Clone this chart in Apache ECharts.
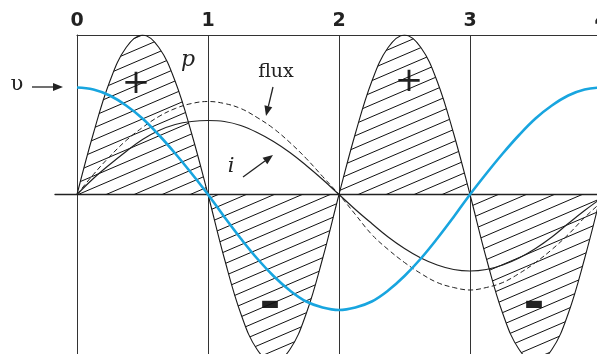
<!DOCTYPE html>
<html>
<head>
<meta charset="utf-8">
<script src="https://cdn.jsdelivr.net/npm/echarts@6/dist/echarts.min.js"></script>
<style>
  html, body { margin: 0; padding: 0; background: #fff; }
  #chart { width: 597px; height: 354px; }
</style>
</head>
<body>
<div id="chart"></div>
<script>
// time in quarter periods of v (0..4), sampled every 1/8
var xs = [0, 0.125, 0.25, 0.375, 0.5, 0.625, 0.75, 0.875,
  1, 1.125, 1.25, 1.375, 1.5, 1.625, 1.75, 1.875,
  2, 2.125, 2.25, 2.375, 2.5, 2.625, 2.75, 2.875,
  3, 3.125, 3.25, 3.375, 3.5, 3.625, 3.75, 3.875, 4];

// readings from the figure (same vertical units for every curve)
var vVals = [107, 105, 99, 89, 76, 59.5, 41, 21,
  0, -22.5, -44, -64, -81.5, -96, -107, -113,
  -115.5, -113, -107, -96, -81.5, -64, -44, -22.5,
  0, 21, 41, 59.5, 76, 89, 99, 105, 107];
var iVals = [0, 16, 30, 43, 55, 64, 70, 73,
  74, 73, 69, 62, 53, 42, 29, 15,
  0, -15, -29, -42.5, -54, -63.5, -70.5, -75,
  -76.5, -75, -70.5, -63.5, -54, -42.5, -29, -16, -4];
var fluxVals = [0, 20, 38, 54, 67, 78, 86, 91,
  93, 91, 86, 77, 66, 52, 36, 18,
  0, -20, -40, -55, -68, -79, -88, -93,
  -95.5, -93, -88, -79, -68, -55, -40, -23, -8];
var pVals = [0, 61, 113, 147, 159.5, 147, 113, 61,
  0, -64, -119, -155, -168, -155, -119, -64,
  0, 61, 113, 147, 159.5, 147, 113, 61,
  0, -64, -119, -155, -168, -155, -119, -64, 0];

var tickLabels = ['0', '1', '2', '3', '4'];

function pairs(vals) {
  var out = [];
  for (var i = 0; i < xs.length; i++) {
    out.push([xs[i], vals[i]]);
  }
  return out;
}

// hatch pattern for p
var hatch = document.createElement('canvas');
hatch.width = 28;
hatch.height = 12;
var hc = hatch.getContext('2d');
hc.strokeStyle = '#111';
hc.lineWidth = 1;
for (var k = -1; k <= 1; k++) {
  hc.beginPath();
  hc.moveTo(0, 12 + k * 12);
  hc.lineTo(28, 0 + k * 12);
  hc.stroke();
}

function arrow(x1, y1, x2, y2) {
  var a = Math.atan2(y2 - y1, x2 - x1);
  var len = 10, half = 4;
  var bx = x2 - len * Math.cos(a), by = y2 - len * Math.sin(a);
  return {
    type: 'group',
    children: [
      { type: 'line', shape: { x1: x1, y1: y1, x2: bx, y2: by },
        style: { stroke: '#222', lineWidth: 1.3 } },
      { type: 'polygon',
        shape: { points: [[x2, y2],
          [bx + half * Math.sin(a), by - half * Math.cos(a)],
          [bx - half * Math.sin(a), by + half * Math.cos(a)]] },
        style: { fill: '#222' } }
    ]
  };
}

function txt(x, y, s, size, font, extra, scaleY) {
  var st = { text: s, x: 0, y: 0, fontSize: size, fontFamily: font,
    fill: '#222', align: 'center', verticalAlign: 'middle' };
  for (var key in extra) st[key] = extra[key];
  return { type: 'text', x: x, y: y, scaleY: scaleY || 1, style: st };
}

var chart = echarts.init(document.getElementById('chart'));

var option = {
  animation: false,
  backgroundColor: '#fff',
  grid: [
    { left: 77, right: -4, top: 35, bottom: 0, containLabel: false, outerBoundsMode: 'none' },
    { left: 55, right: 0, top: 35, bottom: 0, containLabel: false, outerBoundsMode: 'none' }
  ],
  xAxis: [
    {
      type: 'value', gridIndex: 0, min: 0, max: 4, interval: 1,
      position: 'top',
      axisLine: { show: true, onZero: false, lineStyle: { color: '#333', width: 1.2 } },
      axisTick: { show: false },
      axisLabel: {
        margin: 4, color: '#222', fontSize: 19, fontWeight: 'bold',
        fontFamily: 'DejaVu Sans', hideOverlap: false,
        formatter: function (v) { return tickLabels[Math.round(v)]; }
      },
      splitLine: { show: true, lineStyle: { color: '#333', width: 1 } }
    },
    {
      type: 'value', gridIndex: 1, min: 0, max: 1,
      axisLine: { show: true, onZero: true, lineStyle: { color: '#222', width: 1.3 } },
      axisTick: { show: false },
      axisLabel: { show: false },
      splitLine: { show: false }
    }
  ],
  yAxis: [
    {
      type: 'value', gridIndex: 0, min: -159.5, max: 159.5,
      axisLine: { show: true, onZero: false, lineStyle: { color: '#333', width: 1 } },
      axisTick: { show: false }, axisLabel: { show: false },
      splitLine: { show: false }
    },
    {
      type: 'value', gridIndex: 1, min: -159.5, max: 159.5,
      axisLine: { show: false }, axisTick: { show: false },
      axisLabel: { show: false }, splitLine: { show: false }
    }
  ],
  series: [
    {
      name: 'p', type: 'line', data: pairs(pVals), smooth: 0.4,
      symbol: 'none', z: 2,
      lineStyle: { color: '#1a1a1a', width: 1.1 },
      areaStyle: { color: { image: hatch, repeat: 'repeat' }, opacity: 1 }
    },
    {
      name: 'flux', type: 'line', data: pairs(fluxVals), smooth: 0.4,
      symbol: 'none', z: 3,
      lineStyle: { color: '#222', width: 1, type: [5, 3] }
    },
    {
      name: 'i', type: 'line', data: pairs(iVals), smooth: 0.4,
      symbol: 'none', z: 3,
      lineStyle: { color: '#222', width: 1.2 }
    },
    {
      name: 'v', type: 'line', data: pairs(vVals), smooth: 0.4,
      symbol: 'none', z: 4,
      lineStyle: { color: '#18a5df', width: 2.6 }
    }
  ],
  graphic: [
    txt(17, 85, 'υ', 21, 'DejaVu Serif'),
    arrow(32, 87, 63, 87),
    txt(136, 84, '+', 34, 'DejaVu Sans'),
    txt(409, 82, '+', 34, 'DejaVu Sans'),
    txt(270, 305, '–', 40, 'DejaVu Sans', { fontWeight: 'bold' }, 1.4),
    txt(534, 305, '–', 40, 'DejaVu Sans', { fontWeight: 'bold' }, 1.4),
    txt(188, 60, 'p', 22, 'DejaVu Serif', { fontStyle: 'italic' }),
    txt(276, 72, 'flux', 19, 'DejaVu Serif'),
    arrow(273, 87, 266, 116),
    txt(231, 167, 'i', 21, 'DejaVu Serif', { fontStyle: 'italic' }),
    arrow(243, 177, 273, 155)
  ]
};

chart.setOption(option);
</script>
</body>
</html>
